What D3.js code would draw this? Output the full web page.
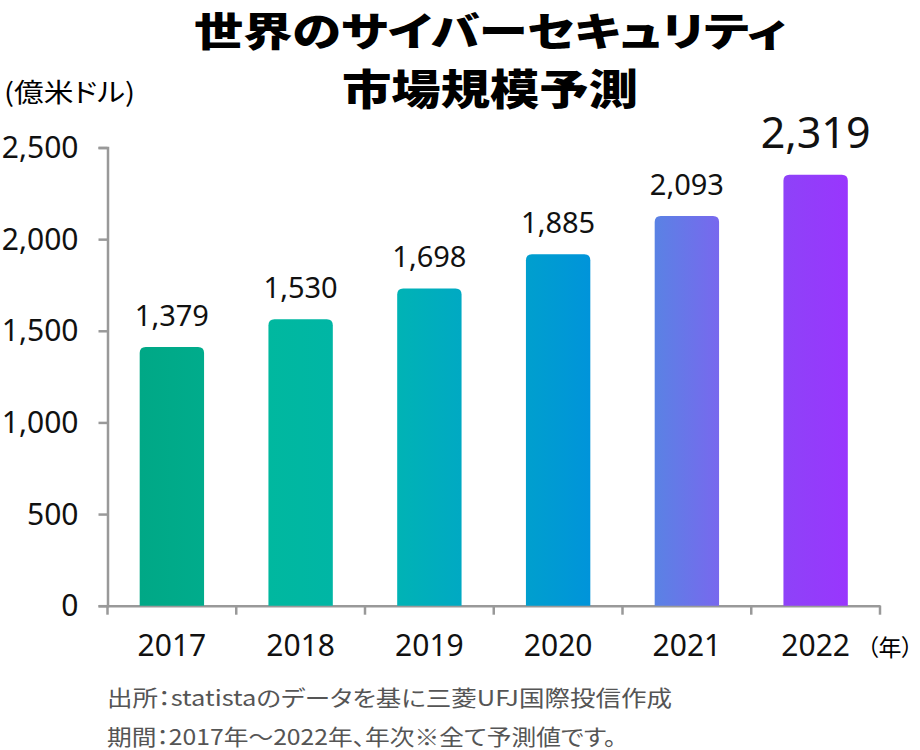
<!DOCTYPE html>
<html>
<head>
<meta charset="utf-8">
<script src="https://cdn.jsdelivr.net/npm/d3@7"></script>
<style>
  body { margin: 0; background: #fff; }
  svg { display: block; }
  .jp { font-family: "Noto Sans CJK JP", sans-serif; }
  .palt { font-feature-settings: "palt"; }
  .num { font-family: "Noto Sans", "DejaVu Sans", sans-serif; }
  .axis path, .axis line { stroke: #999; stroke-width: 2.5; }
</style>
</head>
<body>
<div id="chart"></div>
<script>
// data
const years = ["2017", "2018", "2019", "2020", "2021", "2022"];
const market = [1379, 1530, 1698, 1885, 2093, 2319];
const yTicks = [0, 500, 1000, 1500, 2000, 2500];
const barLeft = ["#00a886", "#00b89f", "#00b3b5", "#009fce", "#5a82e4", "#8e42f8"];
const barRight = ["#00ac8c", "#00b6a5", "#00a9c3", "#0094da", "#7868ee", "#9936fd"];
const titleLines = ["世界のサイバーセキュリティ", "市場規模予測"];
const notes = ["出所：statistaのデータを基に三菱UFJ国際投信作成", "期間：2017年～2022年、年次※全て予測値です。"];

const width = 920, height = 750;
const svg = d3.select("#chart").append("svg")
    .attr("width", width)
    .attr("height", height);

const x = d3.scaleBand()
    .domain(years)
    .range([107.5, 880])
    .paddingInner(0.5)
    .paddingOuter(0.25);
const y = d3.scaleLinear()
    .domain([0, 2500])
    .range([605.7, 147.5]);

// gradients per bar
const defs = svg.append("defs");
years.forEach((yr, i) => {
    const g = defs.append("linearGradient")
        .attr("id", "grad" + i)
        .attr("x1", "0%").attr("x2", "100%")
        .attr("y1", "0%").attr("y2", "0%");
    g.append("stop").attr("offset", "0%").attr("stop-color", barLeft[i]);
    g.append("stop").attr("offset", "100%").attr("stop-color", barRight[i]);
});

// title
svg.append("g").selectAll("text")
    .data(titleLines)
    .enter().append("text")
    .attr("class", "jp palt")
    .attr("x", 490)
    .attr("y", (d, i) => i == 0 ? 46 : 105)
    .attr("text-anchor", "middle")
    .attr("font-size", (d, i) => i == 0 ? 39.5 : 42)
    .attr("font-weight", 900)
    .attr("textLength", (d, i) => i == 0 ? 592 : 296)
    .attr("lengthAdjust", "spacingAndGlyphs")
    .text(d => d);

svg.append("text")
    .attr("class", "jp palt")
    .attr("x", 4)
    .attr("y", 102)
    .attr("font-size", 26)
    .attr("textLength", 131)
    .attr("lengthAdjust", "spacingAndGlyphs")
    .text("(億米ドル)");

// y axis
const yAxis = svg.append("g")
    .attr("class", "axis")
    .attr("transform", "translate(107.5,0)")
    .call(d3.axisLeft(y).tickValues(yTicks).tickSize(9).tickSizeOuter(9)
        .tickFormat(d3.format(",")));
yAxis.selectAll("text")
    .attr("class", "num")
    .attr("font-size", 30)
    .attr("fill", "#111")
    .attr("x", -29)
    .attr("dy", "0.34em");

// x axis
const xAxis = svg.append("g")
    .attr("class", "axis")
    .attr("transform", "translate(0,605.7)")
    .call(d3.axisBottom(x).tickSize(0).tickSizeOuter(0));
xAxis.selectAll("text")
    .attr("class", "num")
    .attr("font-size", 30)
    .attr("fill", "#111")
    .attr("y", 50)
    .attr("dy", 0);
// category boundary ticks
const bounds = years.map(d => x(d) - x.step() * x.paddingInner() / 2);
bounds.push(880);
xAxis.selectAll("line.bound")
    .data(bounds)
    .enter().append("line")
    .attr("class", "bound")
    .attr("x1", d => d).attr("x2", d => d)
    .attr("y1", 0).attr("y2", 9);

svg.append("text")
    .attr("class", "jp palt")
    .attr("x", 867)
    .attr("y", 656)
    .attr("font-size", 23)
    .text("（年）");

// bars with rounded top
const r = 6;
const barData = years.map((d, i) => ({year: d, value: market[i], i: i}));
svg.append("g").selectAll("path")
    .data(barData)
    .enter().append("path")
    .attr("fill", d => "url(#grad" + d.i + ")")
    .attr("d", d => {
        const x0 = x(d.year), w = x.bandwidth(), y0 = y(0), yt = y(d.value) - r;
        return "M" + x0 + "," + y0 +
            "V" + (yt + r) +
            "Q" + x0 + "," + yt + " " + (x0 + r) + "," + yt +
            "H" + (x0 + w - r) +
            "Q" + (x0 + w) + "," + yt + " " + (x0 + w) + "," + (yt + r) +
            "V" + y0 + "Z";
    });

// value labels
svg.append("g").selectAll("text")
    .data(barData)
    .enter().append("text")
    .attr("class", "num")
    .attr("x", d => x(d.year) + x.bandwidth() / 2)
    .attr("y", d => y(d.value) - r - (d.i == 5 ? 27 : 21))
    .attr("text-anchor", "middle")
    .attr("font-size", d => d.i == 5 ? 43 : 29)
    .attr("fill", "#111")
    .text(d => d3.format(",")(d.value));

// notes
svg.append("g").selectAll("text")
    .data(notes)
    .enter().append("text")
    .attr("class", "jp palt")
    .attr("x", 107)
    .attr("y", (d, i) => i == 0 ? 706 : 745)
    .attr("font-size", 22)
    .attr("fill", "#555")
    .attr("textLength", (d, i) => i == 0 ? 565 : 509)
    .attr("lengthAdjust", "spacingAndGlyphs")
    .text(d => d);
</script>
</body>
</html>
